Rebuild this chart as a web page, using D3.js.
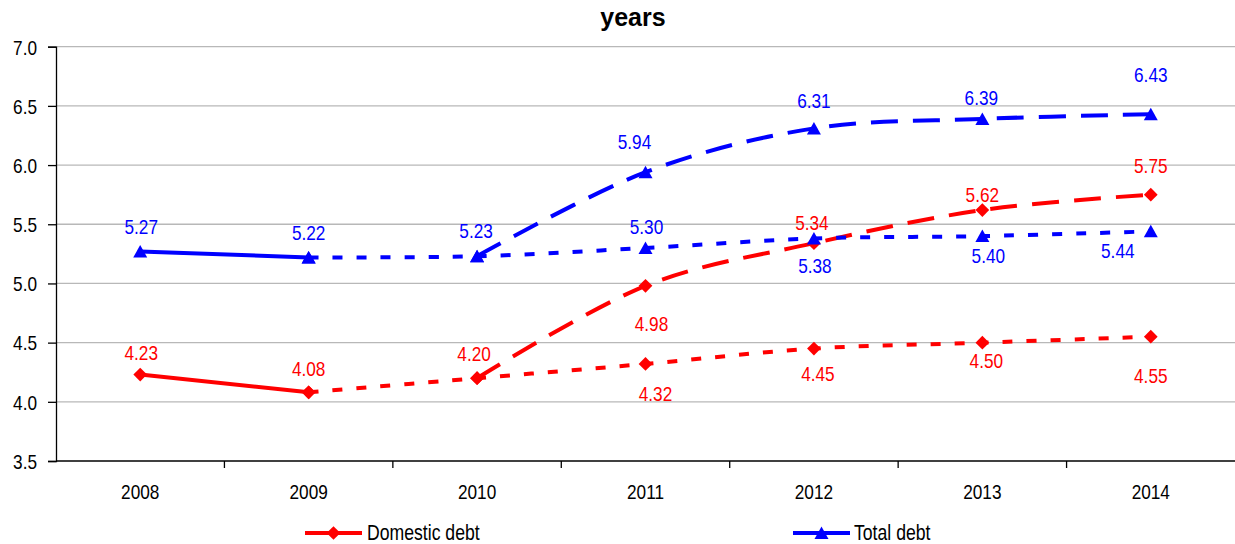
<!DOCTYPE html>
<html>
<head>
<meta charset="utf-8">
<script src="https://cdn.jsdelivr.net/npm/d3@7"></script>
<style>
  html, body { margin: 0; padding: 0; background: #fff; }
  svg { display: block; }
  text { font-family: "Liberation Sans", Arial, sans-serif; }
</style>
</head>
<body>
<svg id="chart" width="1235" height="544"></svg>
<script>
// Average maturity, in years
const years = ["2008", "2009", "2010", "2011", "2012", "2013", "2014"];
const yTicks = [3.5, 4.0, 4.5, 5.0, 5.5, 6.0, 6.5, 7.0];

const domesticActual   = [4.23, 4.08, null, null, null, null, null];
const domesticBaseline = [null, 4.08, 4.20, 4.32, 4.45, 4.50, 4.55];
const domesticHigh     = [null, null, 4.20, 4.98, 5.34, 5.62, 5.75];

const totalActual   = [5.27, 5.22, null, null, null, null, null];
const totalBaseline = [null, 5.22, 5.23, 5.30, 5.38, 5.40, 5.44];
const totalHigh     = [null, null, 5.23, 5.94, 6.31, 6.39, 6.43];

const legendNames = ["Domestic debt", "Total debt"];

// ---- layout ----
const plot = { left: 56, right: 1235, top: 46.7, bottom: 461 };
const RED = "#ff0000", BLUE = "#0000ff";
const DASH = { actual: null, baseline: "10,14", high: "27,15" };
const SQUEEZE = 0.82;   // condensed text look
const FS = 21;

const svg = d3.select("#chart");

// place a text at (px,py) with horizontally condensed glyphs
function condensed(sel, px, py) {
  sel.attr("x", 0).attr("y", 0)
    .attr("transform", (d, i, n) => {
      const X = typeof px === "function" ? px(d, i, n) : px;
      const Y = typeof py === "function" ? py(d, i, n) : py;
      return `translate(${X},${Y}) scale(${SQUEEZE},1)`;
    });
  return sel;
}

const x = d3.scaleBand().domain(years).range([plot.left, plot.right]).padding(0);
const cx = d => x(d) + x.bandwidth() / 2;
const y = d3.scaleLinear().domain([3.5, 7.0]).range([plot.bottom, plot.top]);

// gridlines
svg.append("g")
  .selectAll("line")
  .data(yTicks.filter(t => t > 3.5))
  .join("line")
  .attr("x1", plot.left).attr("x2", plot.right)
  .attr("y1", d => y(d)).attr("y2", d => y(d))
  .attr("stroke", "#b8b8b8").attr("stroke-width", 1.3);

// y axis
const yAxis = svg.append("g")
  .attr("transform", `translate(${plot.left},0)`)
  .call(d3.axisLeft(y).tickValues(yTicks).tickFormat(d3.format(".1f")).tickSize(8));
yAxis.select(".domain").attr("stroke", "#000").attr("stroke-width", 1.3);
yAxis.selectAll(".tick line").attr("stroke", "#000").attr("stroke-width", 1.3);
yAxis.selectAll(".tick text")
  .attr("font-size", FS).attr("fill", "#000")
  .attr("font-family", '"Liberation Sans", Arial, sans-serif')
  .attr("dy", "0.35em")
  .call(condensed, -19, 0);

// x axis: ticks at category boundaries, labels centred
const xAxis = svg.append("g").attr("transform", `translate(0,${plot.bottom})`);
xAxis.append("line")
  .attr("x1", plot.left).attr("x2", plot.right)
  .attr("stroke", "#000").attr("stroke-width", 1.3);
xAxis.selectAll("line.tk")
  .data(years.slice(1))
  .join("line").attr("class", "tk")
  .attr("x1", d => x(d)).attr("x2", d => x(d))
  .attr("y1", 0).attr("y2", 7)
  .attr("stroke", "#000").attr("stroke-width", 1.3);
xAxis.selectAll("text")
  .data(years)
  .join("text")
  .attr("text-anchor", "middle")
  .attr("font-size", FS).attr("fill", "#000")
  .text(d => d)
  .call(condensed, d => cx(d), 38);

// title
svg.append("text")
  .attr("x", 633).attr("y", 26)
  .attr("text-anchor", "middle")
  .attr("font-weight", "bold").attr("font-size", 25)
  .text("years");

// series definitions with label placement (offset of label centre from point)
const series = [
  { values: domesticActual, color: RED, marker: "diamond", dash: DASH.actual,
    labels: { "2008": [1, -22], "2009": [0, -24] } },
  { values: domesticBaseline, color: RED, marker: "diamond", dash: DASH.baseline,
    labels: { "2010": [-3, -25], "2011": [10, 29], "2012": [4, 25], "2013": [4, 18], "2014": [0, 39] } },
  { values: domesticHigh, color: RED, marker: "diamond", dash: DASH.high,
    labels: { "2011": [6, 38], "2012": [-2, -21], "2013": [0, -16], "2014": [0, -29] } },
  { values: totalActual, color: BLUE, marker: "triangle", dash: DASH.actual,
    labels: { "2008": [1, -25], "2009": [0, -25] } },
  { values: totalBaseline, color: BLUE, marker: "triangle", dash: DASH.baseline,
    labels: { "2010": [-1, -26], "2011": [1, -22], "2012": [1, 27], "2013": [6, 19], "2014": [-33, 19] } },
  { values: totalHigh, color: BLUE, marker: "triangle", dash: DASH.high,
    labels: { "2011": [-11, -31], "2012": [0, -28], "2013": [-1, -21], "2014": [0, -40] } }
];

const line = d3.line()
  .defined(d => d.v != null)
  .x(d => cx(d.year))
  .y(d => y(d.v))
  .curve(d3.curveCatmullRom.alpha(0));

const diamond = d3.symbol().type(d3.symbolDiamond2).size(120)();
const triangle = "M0,-6.5L7,6L-7,6Z";

const lineLayer = svg.append("g");
const markerLayer = svg.append("g");
const labelLayer = svg.append("g");

series.forEach(s => {
  const pts = years.map((yr, i) => ({ year: yr, v: s.values[i] }));
  const p = lineLayer.append("path")
    .datum(pts)
    .attr("d", line)
    .attr("fill", "none")
    .attr("stroke", s.color)
    .attr("stroke-width", 4)
    .attr("stroke-linejoin", "round");
  if (s.dash) p.attr("stroke-dasharray", s.dash);

  const defined = pts.filter(d => d.v != null);
  markerLayer.selectAll(null)
    .data(defined)
    .join("path")
    .attr("transform", d => `translate(${cx(d.year)},${y(d.v)})`)
    .attr("d", s.marker === "diamond" ? diamond : triangle)
    .attr("fill", s.color);

  labelLayer.selectAll(null)
    .data(defined.filter(d => s.labels[d.year]))
    .join("text")
    .attr("dy", "0.36em")
    .attr("text-anchor", "middle")
    .attr("font-size", FS)
    .attr("fill", s.color)
    .text(d => d.v.toFixed(2))
    .call(condensed, d => cx(d.year) + s.labels[d.year][0], d => y(d.v) + s.labels[d.year][1]);
});

// legend
const legend = svg.append("g");
const legendItems = [
  { name: legendNames[0], color: RED, marker: "diamond", x0: 305, x1: 362, tx: 367 },
  { name: legendNames[1], color: BLUE, marker: "triangle", x0: 793, x1: 850, tx: 854 }
];
legendItems.forEach(it => {
  const ly = 533;
  legend.append("line")
    .attr("x1", it.x0).attr("x2", it.x1).attr("y1", ly).attr("y2", ly)
    .attr("stroke", it.color).attr("stroke-width", 4);
  legend.append("path")
    .attr("transform", `translate(${(it.x0 + it.x1) / 2},${ly})`)
    .attr("d", it.marker === "diamond" ? diamond : triangle)
    .attr("fill", it.color);
  legend.append("text")
    .attr("font-size", 21.5).attr("fill", "#000")
    .text(it.name)
    .call(condensed, it.tx, 539.5);
});
</script>
</body>
</html>
